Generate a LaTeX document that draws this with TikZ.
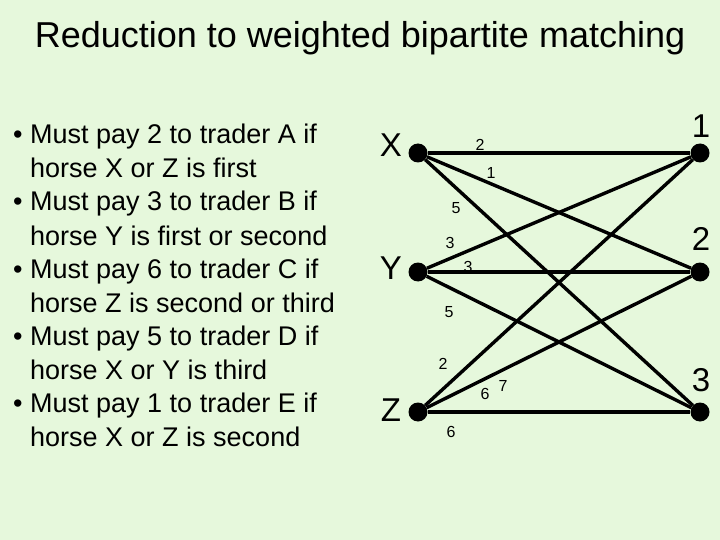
\documentclass[tikz,border=0pt]{standalone}
\usepackage{fontspec}
\setmainfont{Liberation Sans}
\definecolor{bg}{HTML}{E6F8DC}
\begin{document}
\begin{tikzpicture}[x=1pt,y=-1pt,
  dot/.style={circle,fill=black,inner sep=0,minimum size=19pt},
  edge/.style={line width=3.4pt},
  wt/.style={font=\fontsize{16}{16}\selectfont},
  big/.style={font=\fontsize{33}{33}\selectfont},
  item/.style={anchor=base west,inner sep=0,font=\fontsize{27}{27}\selectfont}]
\fill[bg] (0,0) rectangle (720,540);
\useasboundingbox (0,0) rectangle (720,540);
\node[font=\fontsize{36}{36}\selectfont] (title) at (360,38) {Reduction to weighted bipartite matching};
\foreach \i/\a/\b in {0/Must pay 2 to trader A if/horse X or Z is first,
 1/Must pay 3 to trader B if/horse Y is first or second,
 2/Must pay 6 to trader C if/horse Z is second or third,
 3/Must pay 5 to trader D if/horse X or Y is third,
 4/Must pay 1 to trader E if/horse X or Z is second}{
  \node[item] (b\i) at (13,{144+\i*67}) {\textbullet};
  \node[item] (t\i) at (30,{144+\i*67}) {\a};
  \node[item] (s\i) at (30,{178+\i*67}) {\b};
}
\node[dot] (X) at (418,153) {};
\node[dot] (Y) at (418,272) {};
\node[dot] (Z) at (418,412) {};
\node[dot] (A) at (700,153) {};
\node[dot] (B) at (700,272) {};
\node[dot] (C) at (700,412) {};
\node[big] (lx) at (391,145) {X};
\node[big] (ly) at (391,268) {Y};
\node[big] (lz) at (391,410) {Z};
\node[big] (l1) at (701,126) {1};
\node[big] (l2) at (701,239) {2};
\node[big] (l3) at (701,380) {3};
\foreach \a in {X,Y,Z}{\foreach \b in {A,B,C}{\draw[edge] (\a) -- (\b);}}
\node[wt] (w1) at (480,145) {2};
\node[wt] (w2) at (491,173) {1};
\node[wt] (w3) at (456,208) {5};
\node[wt] (w4) at (450,243) {3};
\node[wt] (w5) at (468,267) {3};
\node[wt] (w6) at (449,312) {5};
\node[wt] (w7) at (443,364) {2};
\node[wt] (w8) at (485,394) {6};
\node[wt] (w9) at (503,386) {7};
\node[wt] (w10) at (451,432) {6};
\end{tikzpicture}
\end{document}
